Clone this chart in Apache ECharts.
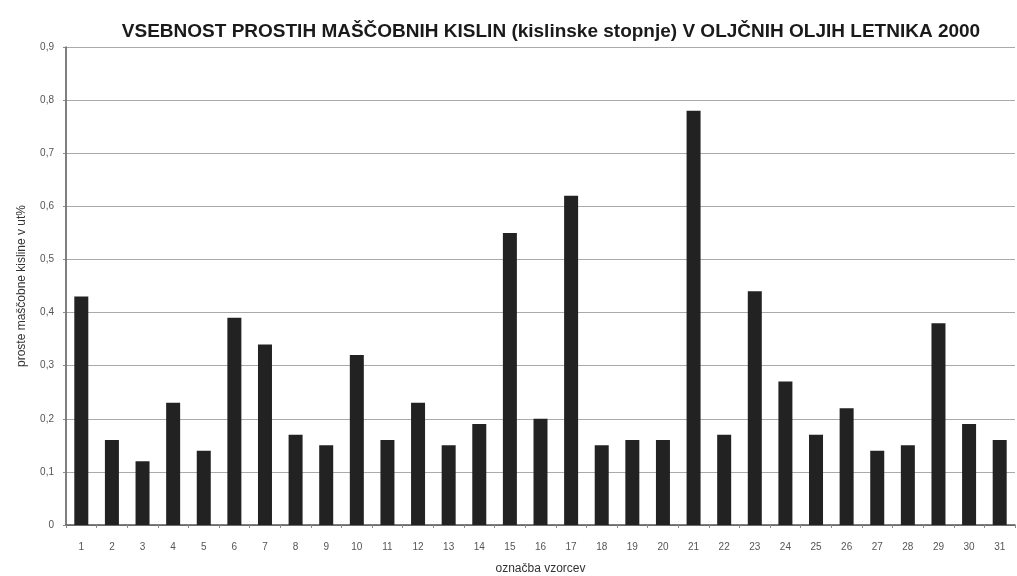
<!DOCTYPE html>
<html><head><meta charset="utf-8">
<script src="https://cdn.jsdelivr.net/npm/echarts@6/dist/echarts.min.js"></script>
<style>html,body{margin:0;padding:0;background:#fff}#c{width:1017px;height:576px}</style>
</head><body><div id="c"></div>
<script>
const categories = ['1','2','3','4','5','6','7','8','9','10','11','12','13','14','15','16','17','18','19','20','21','22','23','24','25','26','27','28','29','30','31'];
const values = [0.43,0.16,0.12,0.23,0.14,0.39,0.34,0.17,0.15,0.32,0.16,0.23,0.15,0.19,0.55,0.20,0.62,0.15,0.16,0.16,0.78,0.17,0.44,0.27,0.17,0.22,0.14,0.15,0.38,0.19,0.16];
const yTicks = [0,0.1,0.2,0.3,0.4,0.5,0.6,0.7,0.8,0.9];
const titleText = 'VSEBNOST PROSTIH MAŠČOBNIH KISLIN (kislinske stopnje) V OLJČNIH OLJIH LETNIKA 2000';
const yName = 'proste maščobne kisline v ut%';
const xName = 'označba vzorcev';

const chart = echarts.init(document.getElementById('c'));
chart.setOption({
  animation: false,
  backgroundColor: '#fff',
  title: { text: titleText, left: 546, top: 17, textAlign: 'center',
    textStyle: { fontFamily: 'Liberation Sans', fontWeight: 'bold', fontSize: 19, color: '#1a1a1a' } },
  grid: { left: 66, right: 2, top: 47, bottom: 51, outerBoundsMode: 'none', containLabel: false },
  xAxis: { type: 'category', data: categories, name: xName, nameLocation: 'middle', nameGap: 38,
    nameTextStyle: { fontSize: 12, color: '#333', fontFamily: 'Liberation Sans' },
    axisLine: { lineStyle: { color: '#555', width: 1.5 } },
    axisTick: { show: true, alignWithLabel: false, length: 3, lineStyle: { color: '#888' } },
    axisLabel: { color: '#555', fontSize: 10, margin: 17, fontFamily: 'Liberation Sans' } },
  yAxis: { type: 'value', min: 0, max: 0.9, interval: 0.1, name: yName, nameLocation: 'middle', nameGap: 38,
    nameTextStyle: { fontSize: 12, color: '#333', fontFamily: 'Liberation Sans' },
    axisLine: { show: true, lineStyle: { color: '#555', width: 1.5 } },
    axisTick: { show: true, length: 3, lineStyle: { color: '#888' } },
    axisLabel: { color: '#555', fontSize: 10, margin: 12, fontFamily: 'Liberation Sans',
      formatter: v => { const t = yTicks.find(x => Math.abs(x - v) < 1e-9); return (t === 0 ? '0' : t.toFixed(1).replace('.', ',')); } },
    splitLine: { lineStyle: { color: '#aaa', width: 1.2 } } },
  series: [{ type: 'bar', data: values, barWidth: 14, itemStyle: { color: '#222' } }]
});
</script></body></html>
